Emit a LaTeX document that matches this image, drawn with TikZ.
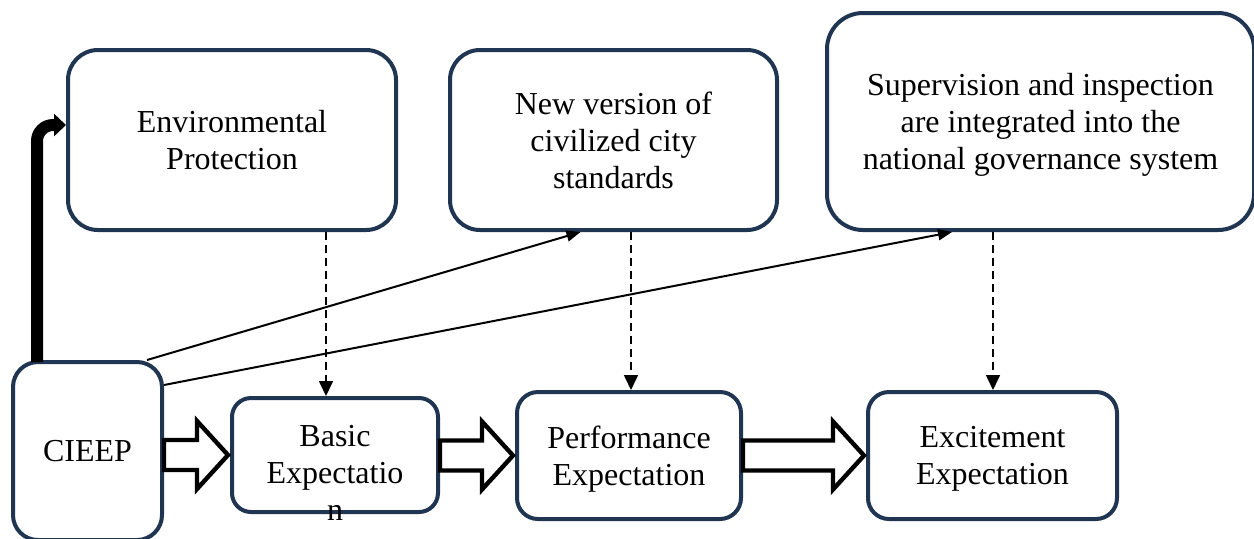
\documentclass[tikz,border=0pt]{standalone}
\usepackage{fontspec}
\setmainfont{Liberation Serif}
\usetikzlibrary{arrows.meta,calc}
\definecolor{boxblue}{HTML}{1F3552}
\newcommand\myfatarrow[2]{%
  \draw[fat] let \p1=(#1.east), \p2=(#2.west) in
    (\x1,\y2+7.5pt) -- (\x2-16.5pt,\y2+7.5pt) -- (\x2-16.5pt,\y2+17pt) --
    (\x2-1pt,\y2) -- (\x2-16.5pt,\y2-17pt) -- (\x2-16.5pt,\y2-7.5pt) --
    (\x1,\y2-7.5pt) -- cycle;}
\begin{document}
\begin{tikzpicture}[x=0.5pt,y=-0.5pt,
  box/.style={draw=boxblue,line width=2pt,fill=white,align=center,
    font=\fontsize{16}{18.5}\selectfont,inner sep=0pt,text depth=0pt},
  txt/.style={align=center,font=\fontsize{16}{18.5}\selectfont,inner sep=0pt},
  fat/.style={draw=black,fill=white,line width=2.2pt,line join=miter},
  thinarrow/.style={draw=black,line width=1pt,-{Triangle[width=5.5pt,length=7pt]}},
  dasharrow/.style={draw=black,line width=0.8pt,dash pattern=on 4pt off 2.5pt,
    -{Triangle[width=7pt,length=7.5pt]}},
  thickarrow/.style={draw=black,line width=6pt,rounded corners=8pt,
    -{Triangle[width=11pt,length=6pt]}}]
\useasboundingbox (0,0) rectangle (1254,538);

% top boxes
\node[box,minimum width=164pt,minimum height=90pt,rounded corners=15pt] (env) at (232,140) {Environmental\\Protection};
\node[box,minimum width=163.5pt,minimum height=90pt,rounded corners=15pt] (new) at (613.5,140) {New version of\\civilized city\\standards};
\node[box,minimum width=213.5pt,minimum height=108.5pt,rounded corners=18pt] (sup) at (1040.5,121.5) {Supervision and inspection\\are integrated into the\\national governance system};

% bottom boxes
\node[box,minimum width=74.5pt,minimum height=89pt,rounded corners=12.5pt] (cieep) at (87.5,451) {CIEEP};
\node[box,minimum width=103pt,minimum height=57pt,rounded corners=9.5pt] (basic) at (335,455) {};
\node[txt] (basictext) at (335,473) {Basic\\Expectatio\\n};
\node[box,minimum width=112pt,minimum height=63.5pt,rounded corners=10.5pt] (perf) at (629,455.5) {Performance\\Expectation};
\node[box,minimum width=124.5pt,minimum height=63.5pt,rounded corners=10.5pt] (exc) at (992.5,455.5) {Excitement\\Expectation};

% thick arrow
\draw[thickarrow] ([xshift=13pt,yshift=-1pt]cieep.north west) |- ([yshift=7.5pt]env.west);

% thin arrows
\draw[thinarrow] ([xshift=-8.5pt]cieep.north east) -- ([xshift=-16.5pt]new.south);
\draw[thinarrow] ([yshift=-12.5pt]cieep.north east) -- ([xshift=-44.25pt]sup.south);

% dashed arrows
\coordinate (d1) at ([xshift=47pt]env.south);
\coordinate (d2) at ([xshift=8.75pt]new.south);
\coordinate (d3) at ([xshift=-23.75pt]sup.south);
\draw[dasharrow] (d1) -- (d1 |- basic.north);
\draw[dasharrow] (d2) -- (d2 |- perf.north);
\draw[dasharrow] (d3) -- (d3 |- exc.north);

% fat hollow arrows
\myfatarrow{cieep}{basic}
\myfatarrow{basic}{perf}
\myfatarrow{perf}{exc}
\end{tikzpicture}
\end{document}
